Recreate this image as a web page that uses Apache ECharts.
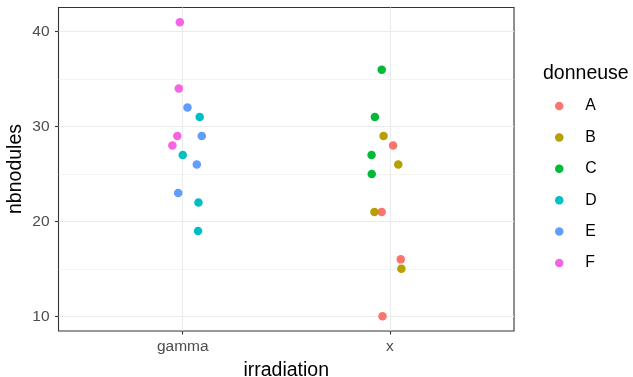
<!DOCTYPE html>
<html>
<head>
<meta charset="utf-8">
<script src="https://cdn.jsdelivr.net/npm/echarts@6/dist/echarts.min.js"></script>
<style>
  html, body { margin: 0; padding: 0; background: #fff; }
  #chart { width: 633px; height: 377px; }
</style>
</head>
<body>
<div id="chart"></div>
<script>
// categories of irradiation, placed at 1 and 2 on the x scale
var irradiation = ['gamma', 'x'];
var donneuses = ['A', 'B', 'C', 'D', 'E', 'F'];
var couleurs = ['#F8766D', '#B79F00', '#00BA38', '#00BFC4', '#619CFF', '#F564E3'];

// jittered x positions and nbnodules per donneuse
var xA = [2.016, 1.961, 2.053, 1.965];
var yA = [28, 21, 16, 10];
var xB = [1.970, 2.041, 1.926, 2.056];
var yB = [29, 26, 21, 15];
var xC = [1.961, 1.928, 1.912, 1.913];
var yC = [36, 31, 27, 25];
var xD = [1.082, 1.000, 1.076, 1.074];
var yD = [31, 27, 22, 19];
var xE = [1.023, 1.092, 1.068, 0.978];
var yE = [32, 29, 26, 23];
var xF = [0.986, 0.981, 0.974, 0.950];
var yF = [41, 34, 29, 28];

var yTicks = [10, 20, 30, 40];
var yMinor = [15, 25, 35];
var xTicks = [1, 2];

var xs = [xA, xB, xC, xD, xE, xF];
var ys = [yA, yB, yC, yD, yE, yF];

var font = 'Liberation Sans, Arial, sans-serif';

var series = [];
for (var i = 0; i < donneuses.length; i++) {
  var pts = [];
  for (var j = 0; j < xs[i].length; j++) {
    pts.push([xs[i][j], ys[i][j]]);
  }
  series.push({
    type: 'scatter',
    name: donneuses[i],
    data: pts,
    symbolSize: 8.5,
    itemStyle: { color: couleurs[i], opacity: 1 },
    emphasis: { disabled: true }
  });
}

var myChart = echarts.init(document.getElementById('chart'), null, { renderer: 'canvas' });

var option = {
  animation: false,
  textStyle: { fontFamily: font },
  title: {
    text: 'donneuse',
    left: 543,
    top: 63.5,
    padding: 0,
    textStyle: { fontFamily: font, fontSize: 19.5, fontWeight: 'normal', color: '#000' }
  },
  // y axis title, placed like ggplot's
  graphic: [{
    type: 'text',
    x: 16,
    y: 169,
    rotation: Math.PI / 2,
    style: {
      text: 'nbnodules',
      fontFamily: font,
      fontSize: 19.5,
      fill: '#000',
      align: 'center',
      verticalAlign: 'middle'
    }
  }],
  legend: {
    orient: 'vertical',
    left: 555,
    top: 98,
    padding: 0,
    itemWidth: 26,
    itemHeight: 8.5,
    itemGap: 15.4,
    icon: 'circle',
    data: donneuses,
    textStyle: { fontFamily: font, fontSize: 15.8, lineHeight: 16, color: '#000', padding: [0, 0, 0, 8] }
  },
  grid: {
    left: 58.5,
    top: 7.5,
    right: 119,
    bottom: 46,
    outerBoundsMode: 'none',
    containLabel: false,
    show: true,
    borderColor: '#333333',
    borderWidth: 1.1,
    backgroundColor: '#fff',
    z: 0
  },
  xAxis: {
    type: 'value',
    min: 0.4,
    max: 2.6,
    name: 'irradiation',
    nameLocation: 'middle',
    nameGap: 30,
    nameTextStyle: { fontFamily: font, fontSize: 19.5, color: '#000' },
    axisLine: { show: false },
    axisTick: { show: true, length: 3.5, customValues: xTicks, lineStyle: { color: '#333333', width: 1.1 } },
    axisLabel: {
      customValues: xTicks,
      margin: 8,
      fontFamily: font,
      fontSize: 15.5,
      color: '#4D4D4D',
      formatter: function (v) { return irradiation[Math.round(v) - 1]; }
    },
    splitLine: { show: true, lineStyle: { color: '#EBEBEB', width: 1.1 } }
  },
  yAxis: [
    {
      type: 'value',
      min: 8.45,
      max: 42.55,
      axisLine: { show: false },
      axisTick: { show: true, length: 3.5, customValues: yTicks, lineStyle: { color: '#333333', width: 1.1 } },
      axisLabel: { customValues: yTicks, margin: 9, fontFamily: font, fontSize: 15.5, color: '#4D4D4D' },
      splitLine: { show: true, lineStyle: { color: '#EBEBEB', width: 1.1 } }
    },
    {
      // hidden axis only for the minor grid lines
      type: 'value',
      min: 8.45,
      max: 42.55,
      position: 'left',
      axisLine: { show: false },
      axisTick: { show: false, customValues: yMinor },
      axisLabel: { show: false, customValues: yMinor },
      splitLine: { show: true, lineStyle: { color: '#EBEBEB', width: 0.55 } }
    }
  ],
  series: series
};

myChart.setOption(option);
</script>
</body>
</html>
